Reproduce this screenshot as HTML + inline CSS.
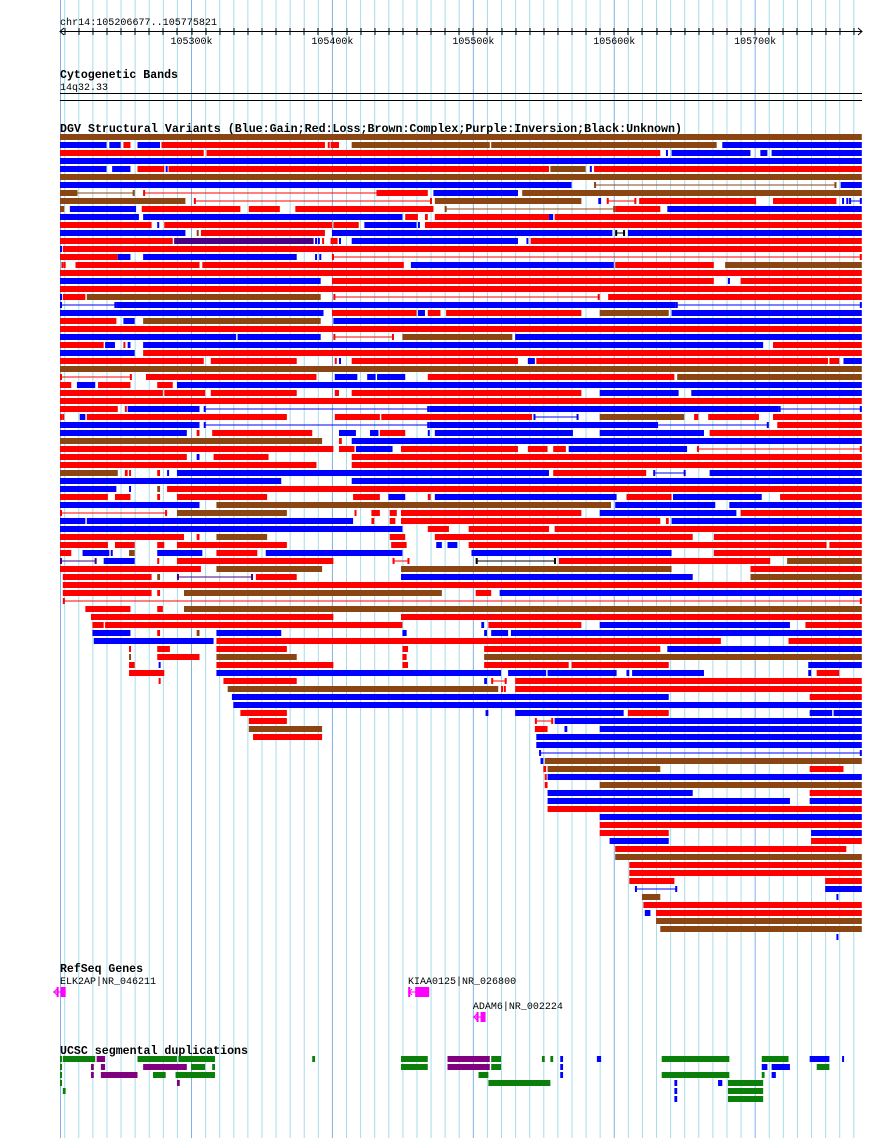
<!DOCTYPE html>
<html><head><meta charset="utf-8"><title>DGV browser view</title>
<style>
html,body{margin:0;padding:0;background:#fff;}
svg{display:block;}
text{font-family:"Liberation Mono","DejaVu Sans Mono",monospace;fill:#000;}
.b{font-weight:bold;}
</style></head>
<body>
<svg id="chart" xmlns="http://www.w3.org/2000/svg" width="890" height="1138" viewBox="0 0 890 1138">
<g id="grid"></g>
<g id="ruler">
<text x="60" y="25" font-size="10" textLength="157" lengthAdjust="spacingAndGlyphs">chr14:105206677..105775821</text>
</g>
<text class="b" x="60" y="78" font-size="11.5" textLength="118" lengthAdjust="spacingAndGlyphs">Cytogenetic Bands</text>
<text x="60" y="90" font-size="10" textLength="48" lengthAdjust="spacingAndGlyphs">14q32.33</text>
<rect x="60" y="93" width="802" height="1" fill="#000"/>
<rect x="60" y="100" width="802" height="1" fill="#000"/>
<text class="b" x="60" y="132" font-size="11.5" textLength="622" lengthAdjust="spacingAndGlyphs">DGV Structural Variants (Blue:Gain;Red:Loss;Brown:Complex;Purple:Inversion;Black:Unknown)</text>
<g id="dgv"></g>
<text class="b" x="60" y="972" font-size="11.5" textLength="83" lengthAdjust="spacingAndGlyphs">RefSeq Genes</text>
<g id="genes"></g>
<text class="b" x="60" y="1054" font-size="11.5" textLength="188" lengthAdjust="spacingAndGlyphs">UCSC segmental duplications</text>
<g id="segdup"></g>
</svg>
<script>
const regionStart = 105206.677;   // kb
const regionEnd = 105775.821;     // kb
const rulerLabels = [105300, 105400, 105500, 105600, 105700];
const colorMap = {B:'#0000ff', R:'#ff0000', N:'#8b4513', P:'#4b0082', K:'#000000', G:'#0a800a', M:'#800080'};
// DGV rows: [startKb, endKb, type] relative to region start; lowercase = thin linked line
const dgvRows = [
[[0,569,'N']],
[[0,33,'B'],[35,43,'B'],[45,50,'R'],[55,71,'B'],[72,188,'R'],[190,191,'R'],[192,198,'R'],[207,305,'N'],[306,466,'N'],[470,569,'B']],
[[0,102,'R'],[104,426,'R'],[430,431,'B'],[434,490,'B'],[497,502,'B'],[505,569,'B']],
[[0,569,'B']],
[[0,33,'B'],[37,50,'B'],[55,74,'R'],[75,76,'B'],[77,347,'R'],[348,373,'N'],[376,377,'B'],[379,569,'R']],
[[0,569,'N']],
[[0,363,'B'],[379,551,'n'],[554,569,'B']],
[[0,11,'N'],[11,53,'n'],[59,226,'r'],[226,261,'R'],[265,325,'B'],[328,569,'N']],
[[0,89,'N'],[95,264,'r'],[266,370,'N'],[382,384,'B'],[388,409,'r'],[411,494,'R'],[506,551,'R'],[555,556,'B'],[558,559,'B'],[560,569,'b']],
[[0,3,'N'],[7,54,'B'],[58,128,'R'],[134,156,'R'],[167,265,'R'],[273,394,'n'],[394,426,'R'],[431,569,'B']],
[[0,56,'B'],[59,243,'B'],[245,254,'R'],[259,261,'R'],[266,347,'R'],[347,350,'B'],[351,569,'R']],
[[0,65,'R'],[69,70,'B'],[74,193,'R'],[194,212,'R'],[216,253,'B'],[254,255,'B'],[259,569,'R']],
[[0,89,'B'],[97,98,'N'],[100,188,'R'],[193,392,'B'],[394,401,'k'],[403,569,'B']],
[[0,80,'R'],[81,180,'P'],[181,182,'B'],[183,184,'B'],[186,187,'R'],[192,197,'R'],[198,199,'B'],[207,325,'B'],[331,332,'B'],[334,569,'R']],
[[0,1,'B'],[2,569,'R']],
[[0,41,'R'],[41,50,'B'],[59,168,'B'],[181,182,'B'],[184,185,'B'],[193,569,'r']],
[[1,4,'r'],[11,99,'R'],[101,244,'R'],[249,393,'B'],[394,464,'R'],[472,569,'N']],
[[0,569,'R']],
[[0,185,'B'],[193,464,'R'],[474,475,'B'],[483,569,'R']],
[[0,569,'R']],
[[0,1,'B'],[2,18,'R'],[19,185,'N'],[194,383,'r'],[389,569,'R']],
[[0,40,'b'],[40,437,'B'],[437,569,'b']],
[[0,187,'B'],[193,253,'R'],[254,259,'B'],[261,270,'R'],[274,370,'R'],[383,432,'N'],[434,569,'B']],
[[0,40,'R'],[45,53,'B'],[59,185,'N'],[194,569,'B']],
[[0,569,'R']],
[[0,125,'B'],[126,185,'B'],[194,237,'r'],[243,321,'N'],[323,569,'B']],
[[0,31,'R'],[32,39,'B'],[45,46,'R'],[48,50,'B'],[59,499,'B'],[506,569,'R']],
[[0,53,'B'],[59,569,'R']],
[[0,102,'R'],[107,168,'R'],[195,196,'R'],[198,199,'B'],[207,325,'R'],[332,337,'B'],[338,545,'R'],[546,553,'R'],[556,569,'B']],
[[0,569,'N']],
[[0,51,'r'],[61,182,'R'],[195,211,'B'],[218,224,'B'],[225,245,'B'],[261,436,'R'],[438,569,'N']],
[[0,8,'R'],[12,25,'B'],[27,50,'R'],[69,80,'R'],[83,569,'B']],
[[0,73,'R'],[74,103,'R'],[107,168,'R'],[195,198,'R'],[207,370,'R'],[383,439,'B'],[448,569,'B']],
[[0,569,'R']],
[[0,41,'R'],[46,47,'R'],[48,99,'B'],[102,262,'b'],[262,510,'B'],[510,569,'b']],
[[0,3,'r'],[14,18,'B'],[19,161,'R'],[195,227,'R'],[228,335,'R'],[336,368,'b'],[383,443,'N'],[450,453,'R'],[460,496,'R'],[506,569,'R']],
[[0,99,'B'],[102,262,'b'],[262,423,'B'],[423,503,'b'],[509,569,'R']],
[[0,90,'B'],[97,99,'R'],[108,179,'R'],[198,210,'B'],[220,226,'B'],[227,245,'R'],[261,262,'B'],[266,364,'B'],[383,457,'B'],[461,569,'R']],
[[0,186,'N'],[198,200,'R'],[207,569,'B']],
[[0,194,'R'],[198,209,'R'],[210,236,'B'],[242,325,'R'],[332,346,'R'],[350,359,'R'],[361,445,'B'],[452,569,'r']],
[[0,90,'R'],[97,99,'B'],[109,148,'R'],[207,569,'R']],
[[0,182,'R'],[207,569,'R']],
[[0,41,'N'],[46,48,'R'],[49,50,'R'],[69,71,'R'],[76,77,'B'],[83,347,'B'],[350,416,'R'],[421,444,'b'],[461,569,'B']],
[[0,157,'B'],[207,569,'B']],
[[0,40,'B'],[49,50,'B'],[69,71,'N'],[76,569,'R']],
[[0,34,'R'],[39,50,'R'],[69,71,'R'],[83,147,'R'],[208,227,'R'],[233,245,'B'],[261,263,'R'],[266,395,'B'],[402,434,'R'],[435,498,'B'],[511,569,'R']],
[[0,99,'B'],[111,391,'N'],[394,465,'B'],[475,569,'B']],
[[0,76,'r'],[83,161,'N'],[209,210,'R'],[221,227,'R'],[234,239,'R'],[242,370,'R'],[383,480,'B'],[483,569,'R']],
[[0,18,'B'],[19,208,'B'],[221,223,'R'],[234,238,'R'],[242,426,'R'],[430,432,'R'],[434,569,'B']],
[[0,243,'B'],[261,276,'R'],[290,347,'R'],[351,569,'R']],
[[0,88,'R'],[97,99,'R'],[111,147,'N'],[234,245,'R'],[266,449,'R'],[464,569,'R']],
[[0,34,'R'],[39,53,'R'],[69,74,'R'],[83,161,'R'],[235,246,'R'],[267,271,'B'],[275,282,'B'],[290,544,'R'],[546,569,'R']],
[[0,8,'R'],[16,35,'B'],[36,37,'B'],[49,53,'N'],[69,101,'B'],[111,140,'R'],[146,243,'B'],[292,434,'B'],[464,569,'R']],
[[0,26,'p'],[31,53,'B'],[69,70,'R'],[83,194,'R'],[236,248,'r'],[295,352,'k'],[354,504,'R'],[516,569,'N']],
[[0,100,'R'],[111,186,'N'],[242,434,'N'],[490,569,'R']],
[[2,65,'R'],[69,71,'N'],[83,137,'p'],[139,168,'R'],[242,449,'B'],[490,569,'N']],
[[2,569,'R']],
[[2,65,'R'],[69,71,'R'],[88,271,'N'],[295,306,'R'],[312,569,'B']],
[[2,569,'r']],
[[18,50,'R'],[69,73,'R'],[88,569,'N']],
[[22,194,'R'],[242,569,'R']],
[[23,31,'R'],[32,243,'R'],[299,301,'B'],[304,370,'R'],[383,518,'B'],[529,569,'R']],
[[23,50,'B'],[69,71,'R'],[97,99,'N'],[111,157,'B'],[243,246,'B'],[301,303,'B'],[306,318,'B'],[320,569,'B']],
[[24,109,'B'],[111,469,'R'],[517,569,'R']],
[[49,50,'R'],[69,78,'R'],[111,161,'R'],[243,247,'R'],[301,426,'R'],[431,569,'B']],
[[49,50,'N'],[69,99,'R'],[111,168,'N'],[243,246,'R'],[301,569,'N']],
[[49,53,'R'],[70,71,'B'],[111,194,'R'],[243,247,'R'],[301,361,'R'],[363,432,'R'],[531,569,'B']],
[[49,74,'R'],[111,313,'B'],[318,345,'B'],[346,395,'B'],[402,404,'B'],[406,457,'B'],[531,533,'B'],[537,553,'R']],
[[70,71,'R'],[116,168,'R'],[301,303,'B'],[306,317,'r'],[323,569,'R']],
[[119,311,'N'],[313,314,'R'],[315,316,'R'],[323,569,'R']],
[[122,432,'B'],[532,569,'R']],
[[123,569,'B']],
[[128,161,'R'],[302,304,'B'],[323,400,'B'],[403,432,'R'],[532,548,'B'],[549,569,'B']],
[[134,161,'R'],[337,350,'r'],[351,569,'B']],
[[134,186,'N'],[337,346,'R'],[358,360,'B'],[383,569,'B']],
[[137,186,'R'],[338,569,'B']],
[[338,569,'B']],
[[340,569,'b']],
[[341,343,'B'],[344,569,'N']],
[[343,345,'R'],[346,426,'N'],[532,556,'R']],
[[344,345,'R'],[346,569,'B']],
[[344,346,'R'],[383,569,'N']],
[[346,449,'B'],[532,569,'R']],
[[346,518,'B'],[532,569,'B']],
[[346,569,'R']],
[[383,569,'B']],
[[383,569,'R']],
[[383,432,'R'],[533,569,'B']],
[[390,432,'B'],[533,569,'R']],
[[394,558,'R']],
[[394,569,'N']],
[[404,569,'R']],
[[404,569,'R']],
[[404,436,'R'],[543,569,'R']],
[[408,438,'b'],[543,569,'B']],
[[413,426,'N'],[551,552,'B']],
[[414,569,'R']],
[[415,419,'B'],[423,569,'R']],
[[423,569,'N']],
[[426,569,'N']],
[[551,552,'B']]
];
const geneNames = ['ELK2AP|NR_046211', 'KIAA0125|NR_026800', 'ADAM6|NR_002224'];
const geneStarts = [-5, 247, 293];
const geneEnds = [4, 262, 302];
const geneRows = [0, 0, 1];
// Segmental duplications rows: [startKb, endKb, colour]
const segdupRows = [
[[0,1,'G'],[2,25,'G'],[26,32,'M'],[55,83,'G'],[84,110,'G'],[179,181,'G'],[242,261,'G'],[275,305,'M'],[306,313,'G'],[342,344,'G'],[348,350,'G'],[355,357,'B'],[381,384,'B'],[427,475,'G'],[498,517,'G'],[532,546,'B'],[555,556,'B']],
[[0,1,'G'],[22,24,'M'],[29,32,'M'],[59,90,'M'],[93,103,'G'],[108,110,'G'],[242,261,'G'],[275,305,'M'],[306,313,'G'],[355,357,'B'],[498,502,'B'],[505,518,'B'],[537,546,'G']],
[[0,1,'G'],[22,24,'M'],[29,55,'M'],[66,75,'G'],[82,110,'G'],[297,304,'G'],[355,357,'B'],[427,475,'G'],[498,500,'G'],[505,508,'B']],
[[0,1,'G'],[83,85,'M'],[304,348,'G'],[436,438,'B'],[467,470,'B'],[474,499,'G']],
[[2,4,'G'],[436,438,'B'],[474,499,'G']],
[[436,438,'B'],[474,499,'G']]
];

const NS = 'http://www.w3.org/2000/svg';
const X0 = 60, X1 = 862;
const pxPerKb = (X1 - X0) / (regionEnd - regionStart);
function xRel(kb) { return X0 + kb * pxPerKb; }
function xAbs(kb) { return X0 + (kb - regionStart) * pxPerKb; }
function mk(tag, attrs, parent) {
  const el = document.createElementNS(NS, tag);
  for (const k in attrs) el.setAttribute(k, attrs[k]);
  parent.appendChild(el);
  return el;
}

// grid lines
const grid = document.getElementById('grid');
const gl0 = mk('rect', {x: X0, y: 0, width: 1, height: 1138, fill: '#7fb2e5'}, grid);


for (let p = Math.ceil(regionStart / 10) * 10; p <= regionEnd; p += 10) {
  const major = Math.round(p) % 100 === 0;
  const gl = mk('rect', {x: xAbs(p) - 0.5, y: 0, width: 1, height: 1138, fill: major ? '#7fb2e5' : '#a8dcea'}, grid);
  
  
}

// ruler
const ruler = document.getElementById('ruler');
const axis = mk('rect', {x: X0, y: 31, width: X1 - X0, height: 1, fill: '#000'}, ruler);


const arrL = mk('path', {d: 'M64 28 L60 31.5 L64 35', stroke: '#000', fill: 'none'}, ruler);


const arrR = mk('path', {d: 'M858 28 L862 31.5 L858 35', stroke: '#000', fill: 'none'}, ruler);


for (let p = Math.ceil(regionStart / 10) * 10; p <= regionEnd; p += 10) {
  const t = mk('rect', {x: Math.round(xAbs(p)) - 0.5, y: 28, width: 1, height: 7, fill: '#000'}, ruler);
  
  
}
rulerLabels.forEach(p => {
  const t = mk('text', {x: xAbs(p), y: 44, 'font-size': 10, 'text-anchor': 'middle'}, ruler);
  t.textContent = p + 'k';
  
  
});

function drawSeg(parent, s, top, h, name) {
  const code = s[2];
  const col = colorMap[code.toUpperCase()] || (code === 'p' ? colorMap.P : '#000');
  const xa = xRel(s[0]), xb = xRel(s[1]);
  if (code === code.toLowerCase()) {
    const g = mk('g', {}, parent);
    
    
    mk('rect', {x: xa, y: top + 2.5, width: Math.max(1, xb - xa), height: 1, fill: col}, g);
    mk('rect', {x: xa, y: top, width: 2, height: h, fill: col}, g);
    mk('rect', {x: xb - 2, y: top, width: 2, height: h, fill: col}, g);
  } else {
    const r = mk('rect', {x: xa, y: top, width: Math.max(2, xb - xa), height: h, fill: col}, parent);
    
    
  }
}

// DGV
const dgv = document.getElementById('dgv');
dgvRows.forEach((row, i) => {
  row.forEach(s => drawSeg(dgv, s, 134 + 8 * i, 6, 'dgv-variant'));
});

// Genes
const genes = document.getElementById('genes');
geneNames.forEach((nm, i) => {
  const xa = xRel(geneStarts[i]), xb = xRel(geneEnds[i]);
  const ly = 984 + 25 * geneRows[i];
  const t = mk('text', {x: i === 0 ? 60 : xa, y: ly, 'font-size': 10}, genes);
  t.textContent = nm;
  
  
  const top = ly + 3;
  const g = mk('g', {}, genes);
  
  
  mk('rect', {x: xa, y: top + 4.5, width: xb - xa, height: 1, fill: '#ff00ff'}, g);
  mk('path', {d: `M${xa + 4} ${top + 2} L${xa + 1} ${top + 5} L${xa + 4} ${top + 8}`, stroke: '#ff00ff', fill: 'none'}, g);
  mk('rect', {x: xb - (i === 1 ? 14 : 5), y: top, width: i === 1 ? 14 : 5, height: 10, fill: '#ff00ff'}, g);
  mk('rect', {x: xb - (i === 1 ? 21 : 9), y: top, width: 2, height: 10, fill: '#ff00ff'}, g);
});

// Seg dups
const sd = document.getElementById('segdup');
segdupRows.forEach((row, i) => {
  row.forEach(s => drawSeg(sd, s, 1056 + 8 * i, 6, 'segdup-block'));
});
</script>
</body></html>
